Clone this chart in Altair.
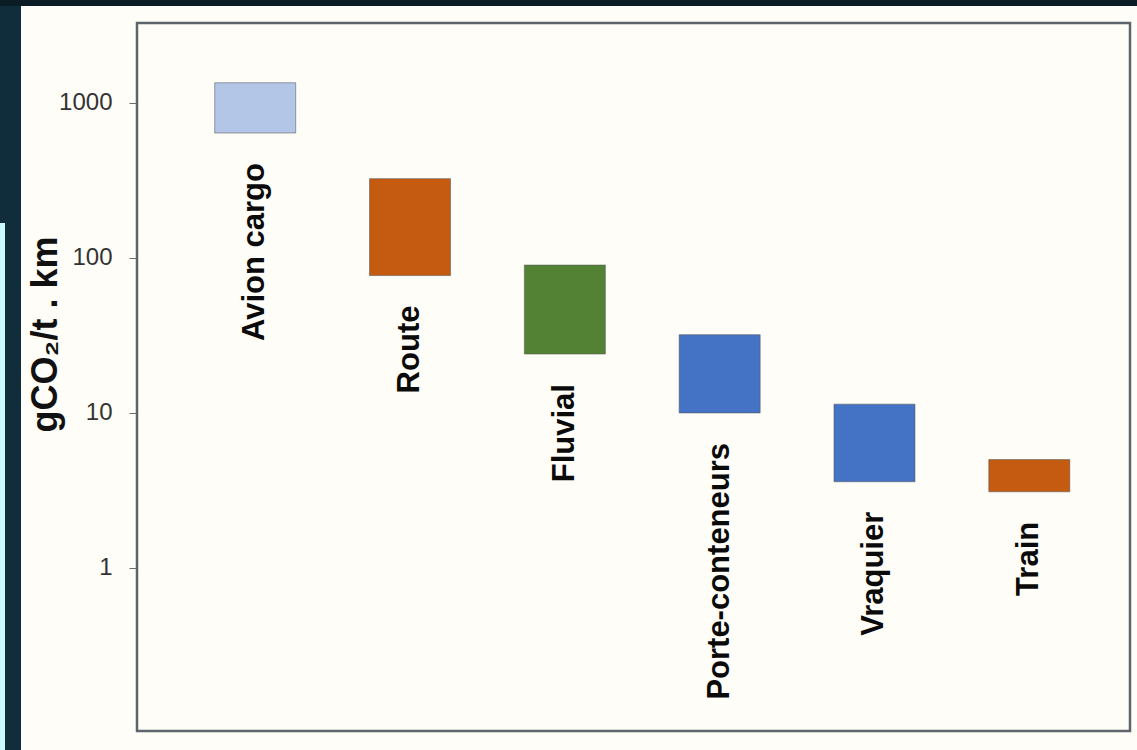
import altair as alt
import pandas as pd

# Emission ranges per freight transport mode (gCO2 per tonne-km)
modes = ["Avion cargo", "Route", "Fluvial", "Porte-conteneurs", "Vraquier", "Train"]
low = [640, 77, 24, 10, 3.6, 3.1]
high = [1350, 325, 90, 32, 11.4, 5.0]
palette = ["#b4c6e7", "#c55a11", "#548235", "#4472c4", "#4472c4", "#c55a11"]
tick_values = [1, 10, 100, 1000]

W, H = 993, 708
PAD = {"left": 137, "top": 23, "right": 7, "bottom": 19}

df = pd.DataFrame({"mode": modes, "low": low, "high": high})
one = pd.DataFrame({"k": [0]})

x_enc = alt.X(
    "mode:N",
    sort=modes,
    scale=alt.Scale(type="point", padding=0.707, align=0.54),
    axis=None,
)
y_scale = alt.Scale(type="log", domain=[0.0887, 3281])

# slide backdrop: dark top band, cream panel, thin cyan strip on the left
top_band = alt.Chart(one).mark_rect(color="#0b1c24").encode(
    x=alt.value(-PAD["left"]), x2=alt.value(W + PAD["right"]),
    y=alt.value(-PAD["top"]), y2=alt.value(-PAD["top"] + 6),
)
panel = alt.Chart(one).mark_rect(color="#fffdf7").encode(
    x=alt.value(21 - PAD["left"]), x2=alt.value(W + PAD["right"]),
    y=alt.value(6 - PAD["top"]), y2=alt.value(H + PAD["bottom"]),
)
strip = alt.Chart(one).mark_rect(color="#c8fcff").encode(
    x=alt.value(-PAD["left"]), x2=alt.value(5 - PAD["left"]),
    y=alt.value(223 - PAD["top"]), y2=alt.value(H + PAD["bottom"]),
)

# plot frame
frame = alt.Chart(one).mark_rect(
    fill=None, fillOpacity=0, stroke="#5d646c", strokeWidth=2.5
).encode(
    x=alt.value(0), x2=alt.value("width"),
    y=alt.value(0), y2=alt.value("height"),
)

bars = alt.Chart(df).mark_bar(size=81, stroke="#55585c", strokeWidth=0.8, strokeOpacity=0.7).encode(
    x=x_enc,
    y=alt.Y(
        "low:Q",
        scale=y_scale,
        axis=alt.Axis(
            values=tick_values,
            format="d",
            grid=False,
            domain=False,
            ticks=True,
            tickSize=8,
            tickColor="#6a6a6a",
            tickWidth=1,
            labelPadding=17,
            labelFont="Liberation Sans",
            labelFontSize=24,
            labelColor="#333333",
            title="gCO₂/t . km",
            titleFont="Liberation Sans",
            titleFontWeight="bold",
            titleFontSize=36,
            titleColor="#111111",
            titleAngle=270,
            titleAlign="center",
            titleBaseline="middle",
            titleX=-92,
            titleY=311,
            zindex=1,
        ),
    ),
    y2="high:Q",
    color=alt.Color("mode:N", scale=alt.Scale(domain=modes, range=palette), legend=None),
)

labels = alt.Chart(df).mark_text(
    angle=270,
    align="right",
    baseline="middle",
    dx=-30,
    font="Liberation Sans",
    fontWeight="bold",
    fontSize=31,
    color="#0a0a0a",
).encode(
    x=x_enc,
    y=alt.Y("low:Q", scale=y_scale),
    text="mode:N",
)

chart = alt.layer(top_band, panel, strip, frame, bars, labels).properties(
    width=W,
    height=H,
    background="#0f2d3a",
    padding=PAD,
    autosize=alt.AutoSizeParams(type="none"),
).configure_view(stroke=None)

chart.save("out.html", embed_options={"renderer": "svg", "actions": False})
